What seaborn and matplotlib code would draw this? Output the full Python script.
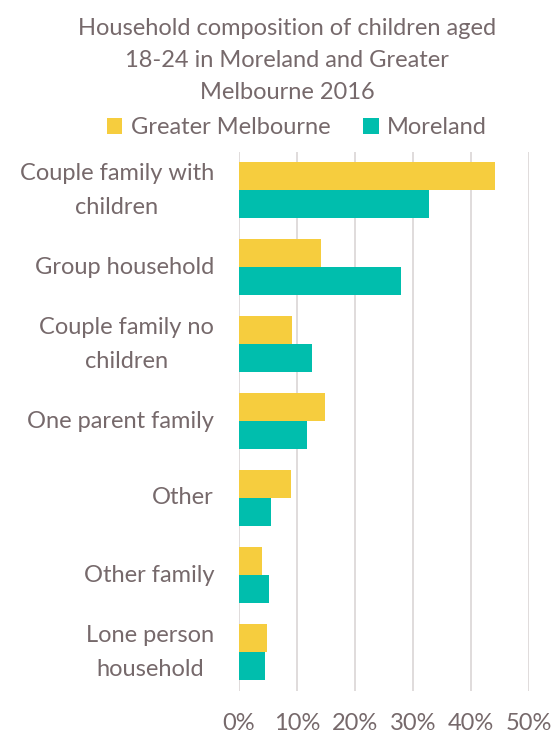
import matplotlib
matplotlib.use("Agg")
import matplotlib.pyplot as plt
import matplotlib.transforms as mtransforms
import seaborn as sns
import pandas as pd
from matplotlib.patches import Patch
from matplotlib.ticker import FuncFormatter, MultipleLocator

categories = ["Couple family with\nchildren", "Group household", "Couple family no\nchildren",
              "One parent family", "Other", "Other family", "Lone person\nhousehold"]
series = ["Greater Melbourne", "Moreland"]
greater_melbourne = [44.1, 14.2, 9.2, 14.9, 9.0, 4.0, 4.8]
moreland = [32.7, 27.9, 12.6, 11.8, 5.6, 5.1, 4.4]
title = "Household composition of children aged\n18-24 in Moreland and Greater\nMelbourne 2016"

colors = {"Greater Melbourne": "#F6CD3E", "Moreland": "#00BEAD"}
text_color = "#76696B"
grid_color = "#DAD5D5"

df = pd.DataFrame({
    "category": categories * 2,
    "value": greater_melbourne + moreland,
    "series": [series[0]] * len(categories) + [series[1]] * len(categories),
})

sns.set_style("white")
plt.rcParams["font.family"] = ["Lato", "DejaVu Sans"]

fig = plt.figure(figsize=(5.57, 7.31), dpi=100)
ax = fig.add_axes([239 / 557, 1 - 690.5 / 731, 290 / 557, 539 / 731])

sns.barplot(data=df, y="category", x="value", hue="series", orient="h",
            palette=colors, saturation=1, width=0.727, gap=0, linewidth=0,
            legend=False, ax=ax, order=categories, hue_order=series)

ax.set_xlim(0, 50)
ax.xaxis.set_major_locator(MultipleLocator(10))
ax.xaxis.set_major_formatter(FuncFormatter(lambda v, p: f"{v:.0f}%"))
ax.grid(axis="x", color=grid_color, linewidth=1.2)
ax.set_axisbelow(True)
for s in ax.spines.values():
    s.set_visible(False)
ax.set_xlabel("")
ax.set_ylabel("")
ax.tick_params(axis="x", length=0, pad=16, labelsize=17, labelcolor=text_color)
ax.tick_params(axis="y", length=0, pad=18, labelsize=17, labelcolor=text_color)
for lbl in ax.get_yticklabels():
    lbl.set_multialignment("center")
    lbl.set_linespacing(1.78)
    shift = 8 if "\n" in lbl.get_text() else 2
    lbl.set_transform(lbl.get_transform() +
                      mtransforms.ScaledTranslation(0, shift / 100, fig.dpi_scale_trans))

fig.text(0.516, 1 - 18 / 731, title, ha="center", va="top", fontsize=17,
         color=text_color, linespacing=1.66)

handles = [Patch(facecolor=colors[s], edgecolor="none") for s in series]
fig.legend(handles, series, loc="center", bbox_to_anchor=(0.533, 1 - 128 / 731), ncol=2,
           frameon=False, fontsize=17, labelcolor=text_color, handlelength=0.65,
           handleheight=0.65, handletextpad=0.35, columnspacing=1.4, borderpad=0)

fig.savefig("out.png", dpi=100)
